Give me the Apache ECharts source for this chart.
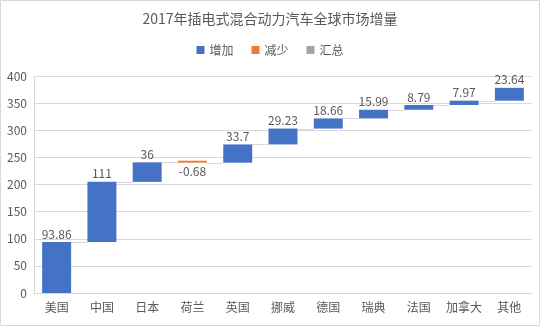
<!DOCTYPE html>
<html><head><meta charset="utf-8">
<script src="https://cdn.jsdelivr.net/npm/echarts@6/dist/echarts.min.js"></script>
<style>html,body{margin:0;padding:0;background:#fff}#c{width:540px;height:326px}</style>
</head><body><div id="c"></div>
<script>
const categories = ['美国','中国','日本','荷兰','英国','挪威','德国','瑞典','法国','加拿大','其他'];
const changes = [93.86, 111, 36, -0.68, 33.7, 29.23, 18.66, 15.99, 8.79, 7.97, 23.64];
const yTicks = {min: 0, max: 400, interval: 50};
const titleText = '2017年插电式混合动力汽车全球市场增量';

const base = [], inc = [], dec = [], connectors = [];
let cum = 0;
changes.forEach((v, i) => {
  if (v >= 0) { base.push(cum); inc.push(v); dec.push('-'); cum += v; }
  else { cum += v; base.push(cum); inc.push('-'); dec.push(-v); }
  connectors.push([i, +cum.toFixed(4)]);
});
connectors.pop();

const font = '"Noto Sans CJK SC", "Noto Sans", sans-serif';
const txt = '#595959';
const chart = echarts.init(document.getElementById('c'));
chart.setOption({
  animation: false,
  textStyle: {fontFamily: font},
  graphic: [{type: 'rect', shape: {x: 0.5, y: 0.5, width: 539, height: 325}, style: {fill: 'none', stroke: '#D9D9D9', lineWidth: 1}, silent: true}],
  title: {text: titleText, left: 'center', top: 7, textStyle: {fontSize: 14, fontWeight: 'normal', color: txt, fontFamily: font}},
  legend: {top: 39, left: 'center', itemWidth: 8, itemHeight: 8, itemGap: 18, icon: 'rect',
    textStyle: {fontSize: 12, color: txt, fontFamily: font},
    data: ['增加','减少','汇总']},
  grid: {left: 34, right: 8, top: 76, bottom: 33, containLabel: false},
  xAxis: {type: 'category', data: categories,
    axisLine: {lineStyle: {color: '#D9D9D9'}}, axisTick: {show: false},
    axisLabel: {color: txt, fontSize: 12, margin: 8, interval: 0, fontFamily: font}},
  yAxis: {type: 'value', min: yTicks.min, max: yTicks.max, interval: yTicks.interval,
    axisLine: {show: true, lineStyle: {color: '#D9D9D9'}}, axisTick: {show: false},
    splitLine: {lineStyle: {color: '#D9D9D9'}},
    axisLabel: {color: txt, fontSize: 12, margin: 7, fontFamily: font}},
  series: [
    {name: 'base', type: 'bar', stack: 't', barWidth: '64%', data: base,
      itemStyle: {color: 'transparent'}, silent: true, label: {show: false}},
    {name: '增加', type: 'bar', stack: 't', data: inc, itemStyle: {color: '#4472C4'},
      label: {show: true, position: 'top', color: txt, fontSize: 12, distance: 2, fontFamily: font}},
    {name: '减少', type: 'bar', stack: 't', data: dec, barMinHeight: 2, itemStyle: {color: '#ED7D31'},
      label: {show: true, position: 'bottom', color: txt, fontSize: 12, distance: 3, fontFamily: font,
        formatter: p => '-' + p.value}},
    {name: '汇总', type: 'bar', stack: 't', data: [], itemStyle: {color: '#A5A5A5'}},
    {name: 'conn', type: 'custom', data: connectors, silent: true, z: 1,
      renderItem: (params, api) => {
        const i = api.value(0), y = api.value(1);
        const p1 = api.coord([i, y]), p2 = api.coord([i + 1, y]);
        const bw = api.size([1, 0])[0] * 0.64;
        const yy = Math.round(p1[1]) + 0.5;
        return {type: 'line', shape: {x1: p1[0] + bw / 2, y1: yy, x2: p2[0] - bw / 2, y2: yy},
          style: {stroke: '#D9D9D9', lineWidth: 1}};
      }}
  ]
});
</script></body></html>
